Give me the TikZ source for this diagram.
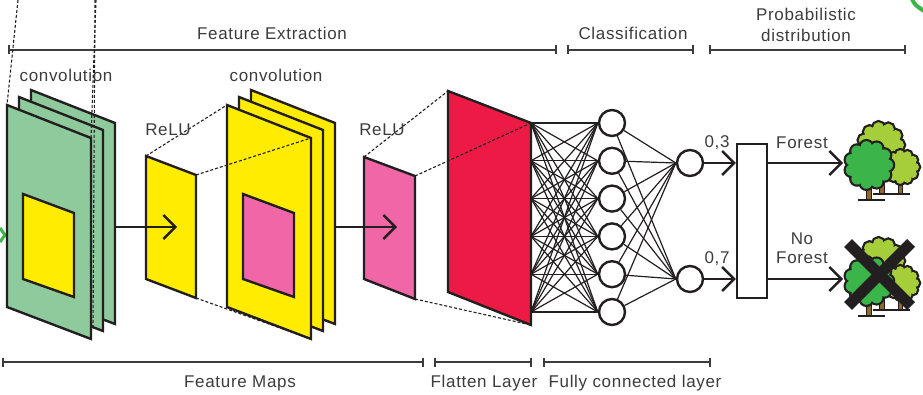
\documentclass[tikz,border=0pt]{standalone}
\usepackage{fontspec}
\setmainfont{Liberation Sans}[LetterSpace=4]
\usetikzlibrary{arrows.meta}

\definecolor{ink}{HTML}{231F20}
\definecolor{txt}{HTML}{3C3C3C}
\definecolor{mapgreen}{HTML}{8ECA9C}
\definecolor{mapyellow}{HTML}{FFEC00}
\definecolor{mappink}{HTML}{F166A6}
\definecolor{mapred}{HTML}{ED1A45}
\definecolor{leafdark}{HTML}{3BB44A}
\definecolor{leaflight}{HTML}{A5CE3A}
\definecolor{bark}{HTML}{8C6A2C}

\tikzset{
  card/.style={draw=ink, line width=2.4pt, line join=miter},
  guide/.style={draw=ink, dash pattern=on 3pt off 2pt, line width=1.1pt},
  span/.style={draw=txt, line width=1.8pt,
    {Bar[width=9pt,line width=1.8pt]}-{Bar[width=9pt,line width=1.8pt]}},
  lbl/.style={text=txt, font=\fontsize{17}{21}\selectfont, inner sep=0pt, anchor=base},
  flow/.style={draw=ink, line width=2.4pt,
    -{Straight Barb[length=12pt,width=24pt,line width=2.4pt]}},
  neuron/.style={circle, draw=ink, line width=2.4pt, fill=white,
    minimum size=26pt, inner sep=0pt},
  wire/.style={draw=ink, line width=1.2pt},
  cross/.style={draw=ink, line width=11pt},
  ground/.style={draw=ink, line width=2.5pt},
  stem/.style={fill=bark, draw=ink, line width=1pt},
}

% bumpy tree crown: outline pass, then colour pass over the same circles
\newcommand\crownshape[3]{(#1,#2) circle ({0.8*#3})
  \foreach \a in {0,32.73,...,330}{ ({#1+0.76*#3*cos(\a)},{#2+0.76*#3*sin(\a)}) circle ({0.24*#3}) }}
\newcommand\crown[4]{%
  \path[fill=ink, draw=ink, line width=4.4pt] \crownshape{#1}{#2}{#3};
  \path[fill=#4] \crownshape{#1}{#2}{#3};}

% group of three trees, shifted down by #1
\newcommand\grove[1]{%
  \begin{scope}[shift={(0,#1)}]
    \path[stem] (879.5,168) rectangle (884.5,194);
    \crown{881}{145}{23}{leaflight}
    \path[stem] (898,176) rectangle (902.5,194);
    \crown{902}{167}{17}{leaflight}
    \draw[ground] (873,194) -- (910,194);
    \path[stem] (866,182) rectangle (871.5,200);
    \crown{869}{165}{24}{leafdark}
    \draw[ground] (858,200) -- (885,200);
  \end{scope}}

\begin{document}
\begin{tikzpicture}[x=1pt, y=-1pt]
\useasboundingbox (0,0) rectangle (923,395);

% fragments of neighbouring artwork at the edges
\draw[leafdark, line width=3pt] (0,228) -- (5,235) -- (0,242);
\draw[leafdark, line width=4pt] (912,-1) .. controls (915,5) .. (924,11);

% ---------- section spans ----------
\draw[span] (8,50) -- (557,50);
\draw[span] (567,50) -- (694,50);
\draw[span] (709,50) -- (906,50);
\node[lbl] (tFE) at (272,40) {Feature Extraction};
\node[lbl] (tCL) at (633,40) {Classification};
\node[lbl, align=center] (tPD) at (806,42) {Probabilistic\\distribution};

\draw[span] (2,362) -- (424,362);
\draw[span] (434,362) -- (532,362);
\draw[span] (543,362) -- (711,362);
\node[lbl] (tFM) at (240,387) {Feature Maps};
\node[lbl] (tFL) at (484,387) {Flatten Layer};
\node[lbl] (tFC) at (635,387) {Fully connected layer};

% ---------- first convolution stack ----------
\foreach \dx/\dy in {24/-15, 12/-8, 0/0}
  \filldraw[card, fill=mapgreen] (7+\dx,105+\dy) -- ++(84,33) -- ++(0,201) -- ++(-84,-32) -- cycle;
\filldraw[card, fill=mapyellow] (23,194) -- (74,213) -- (74,297) -- (23,279) -- cycle;
\draw[guide] (18,0) -- (7,105);
\draw[guide] (96,0) -- (91,138);
\draw[guide] (95,0) -- (93,330);
\node[lbl] (tC1) at (66,82) {convolution};

% ---------- first ReLU map ----------
\filldraw[card, fill=mapyellow] (146,156) coordinate (r1tl) -- (196,175) coordinate (r1tr)
  -- (196,298) coordinate (r1br) -- (146,279) -- cycle;
\coordinate (c1out) at (115,227);
\coordinate (r1in) at (177,227);
\draw[flow] (c1out) -- (r1in);

% ---------- second convolution stack ----------
\foreach \dx/\dy in {24/-15, 12/-8, 0/0}
  \filldraw[card, fill=mapyellow] (227+\dx,105+\dy) -- ++(84,33) -- ++(0,201) -- ++(-84,-32) -- cycle;
\coordinate (c2tl) at (227,105);
\coordinate (c2tr) at (311,138);
\coordinate (c2br) at (311,339);
\filldraw[card, fill=mappink] (243,194) -- (294,213) -- (294,297) -- (243,279) -- cycle;
\draw[guide] (r1tl) -- (c2tl);
\draw[guide] (r1tr) -- (c2tr);
\draw[guide] (r1br) -- (c2br);
\node[lbl] (tR1) at (168,136) {ReLU};
\node[lbl] (tC2) at (276,82) {convolution};

% ---------- second ReLU map ----------
\filldraw[card, fill=mappink] (364,157) coordinate (r2tl) -- (415,176) coordinate (r2tr)
  -- (415,299) coordinate (r2br) -- (364,279) -- cycle;
\coordinate (c2out) at (335,227);
\coordinate (r2in) at (397,227);
\draw[flow] (c2out) -- (r2in);
\node[lbl] (tR2) at (382,136) {ReLU};

% ---------- flatten layer ----------
\filldraw[card, fill=mapred] (448,91) coordinate (fltl) -- (531,123) coordinate (fltr)
  -- (531,325) coordinate (flbr) -- (448,292) -- cycle;
\draw[guide] (r2tl) -- (fltl);
\draw[guide] (r2tr) -- (fltr);
\draw[guide] (r2br) -- (flbr);

% ---------- fully connected part ----------
\foreach \k in {1,...,6} {
  \coordinate (f\k) at (531,{123+37.8*(\k-1)});
  \node[neuron] (h\k) at (612,{123+37.8*(\k-1)}) {};
}
\node[neuron] (o1) at (690,163) {};
\node[neuron] (o2) at (690,279) {};
\foreach \i in {1,...,6} {
  \foreach \j in {1,...,6} \draw[wire] (f\i) -- (h\j.west);
  \foreach \j in {1,2} \draw[wire] (h\i) -- (o\j.west);
}

% ---------- probability stage ----------
\node[draw=ink, line width=2.4pt, fill=white, minimum width=30pt, minimum height=154pt,
  inner sep=0pt] (pd) at (752,221) {};
\draw[flow] (o1.east) -- (pd.west |- o1);
\draw[flow] (o2.east) -- (pd.west |- o2);
\node[lbl] (p1) at (717,148) {0,3};
\node[lbl] (p2) at (717,263) {0,7};

\coordinate (tree1) at (843,163);
\coordinate (tree2) at (843,279);
\draw[flow] (pd.east |- o1) -- (tree1);
\draw[flow] (pd.east |- o2) -- (tree2);
\node[lbl] (yes) at (802,149) {Forest};
\node[lbl, align=center, font=\fontsize{17}{18}\selectfont] (no) at (802,263) {No\\Forest};

% ---------- tree icons ----------
\grove{0}
\grove{116}
\draw[cross] (848,243) -- (911,306);
\draw[cross] (911,243) -- (848,306);

\end{tikzpicture}
\end{document}
